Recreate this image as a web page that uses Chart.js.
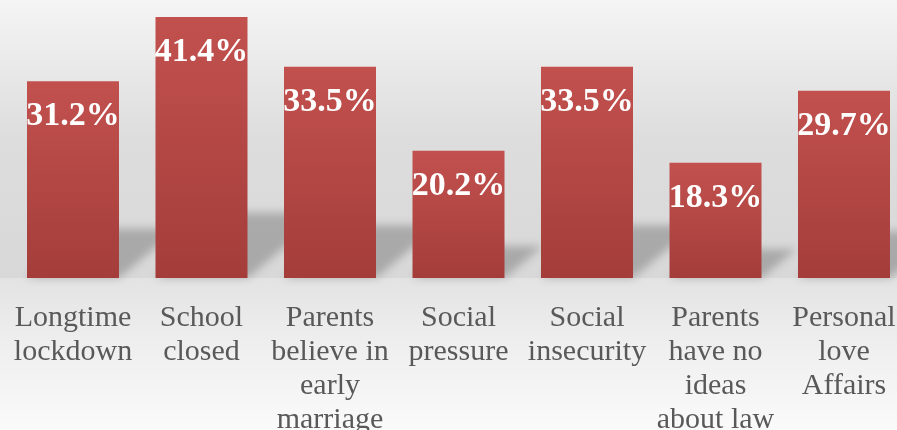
<!DOCTYPE html>
<html>
<head>
<meta charset="utf-8">
<script src="https://cdn.jsdelivr.net/npm/chart.js@4/dist/chart.umd.min.js"></script>
<style>
  html, body { margin: 0; padding: 0; background: #ffffff; }
  #frame { position: fixed; left: 0; top: 0; width: 897px; height: 430px; overflow: hidden; }
  canvas { display: block; }
</style>
</head>
<body>
<div id="frame"><canvas id="c" width="910" height="435"></canvas></div>
<script>
// Reasons reported for early marriage (share of respondents, %)
const categories = [
  ["Longtime", "lockdown"],
  ["School", "closed"],
  ["Parents", "believe in", "early", "marriage"],
  ["Social", "pressure"],
  ["Social", "insecurity"],
  ["Parents", "have no", "ideas", "about law"],
  ["Personal", "love", "Affairs"]
];
const shares = [31.2, 41.4, 33.5, 20.2, 33.5, 18.3, 29.7];
const yMin = 0;
const yMax = 44.1;

const SERIF = '"Liberation Serif", "DejaVu Serif", serif';

// Soft grey backdrop with a lighter floor under the bars
const backdrop = {
  id: 'backdrop',
  beforeDraw(chart) {
    const { ctx, width, height, chartArea } = chart;
    const floor = chartArea.bottom;
    ctx.save();
    const g = ctx.createLinearGradient(0, 0, 0, floor);
    g.addColorStop(0, '#f5f5f5');
    g.addColorStop(0.22, '#eaeaea');
    g.addColorStop(0.5, '#dddddd');
    g.addColorStop(1, '#d8d8d8');
    ctx.fillStyle = g;
    ctx.fillRect(0, 0, width, floor);
    const f = ctx.createLinearGradient(0, floor, 0, height);
    f.addColorStop(0, '#e3e3e3');
    f.addColorStop(0.4, '#eeeeee');
    f.addColorStop(1, '#fbfbfb');
    ctx.fillStyle = f;
    ctx.fillRect(0, floor, width, height - floor);
    ctx.restore();
  }
};

// Perspective shadow cast up and to the right behind each bar
const barShadows = {
  id: 'barShadows',
  beforeDatasetsDraw(chart) {
    const { ctx } = chart;
    const meta = chart.getDatasetMeta(0);
    ctx.save();
    ctx.filter = 'blur(4px)';
    ctx.fillStyle = 'rgba(0,0,0,0.22)';
    meta.data.forEach(bar => {
      const { x, y, base, width } = bar.getProps(['x', 'y', 'base', 'width'], true);
      const left = x - width / 2, right = x + width / 2;
      const sh = (base - y) * 0.25;
      const k = 1.2;
      ctx.beginPath();
      ctx.moveTo(left, base);
      ctx.lineTo(right, base);
      ctx.lineTo(right + k * sh, base - sh);
      ctx.lineTo(left + k * sh, base - sh);
      ctx.closePath();
      ctx.fill();
    });
    ctx.restore();
  }
};

// Percentage printed inside the top of each bar
const valueLabels = {
  id: 'valueLabels',
  afterDatasetsDraw(chart) {
    const { ctx } = chart;
    const meta = chart.getDatasetMeta(0);
    const values = chart.data.datasets[0].data;
    ctx.save();
    ctx.font = 'bold 34px ' + SERIF;
    ctx.fillStyle = '#ffffff';
    ctx.textAlign = 'center';
    ctx.textBaseline = 'alphabetic';
    meta.data.forEach((bar, i) => {
      const { x, y } = bar.getProps(['x', 'y'], true);
      ctx.fillText(values[i].toFixed(1) + '%', x, y + 44);
    });
    ctx.restore();
  }
};

function barFill(context) {
  const chart = context.chart;
  if (!chart.chartArea || context.dataIndex === undefined) return '#b3443f';
  const yScale = chart.scales.y;
  const top = yScale.getPixelForValue(context.raw);
  const base = yScale.getPixelForValue(0);
  if (!isFinite(top) || !isFinite(base) || base - top < 1) return '#b3443f';
  const g = chart.ctx.createLinearGradient(0, top, 0, base);
  g.addColorStop(0, '#c2514e');
  g.addColorStop(1, '#a43d3a');
  return g;
}

new Chart(document.getElementById('c'), {
  type: 'bar',
  data: {
    labels: categories,
    datasets: [{
      data: shares,
      backgroundColor: barFill,
      borderWidth: 0,
      categoryPercentage: 1,
      barPercentage: 0.716
    }]
  },
  options: {
    responsive: false,
    animation: false,
    events: [],
    layout: { padding: { left: 8.75, right: 1.75, top: 0, bottom: 0 } },
    plugins: { legend: { display: false }, tooltip: { enabled: false } },
    scales: {
      y: { display: false, min: yMin, max: yMax },
      x: {
        afterFit(scale) {
          scale.height = 157;
          scale.paddingLeft = 0;
          scale.paddingRight = 0;
        },
        grid: { display: false, drawTicks: false },
        border: { display: false },
        ticks: {
          autoSkip: false,
          maxRotation: 0,
          minRotation: 0,
          padding: 23,
          color: '#595959',
          font: { family: SERIF, size: 30, lineHeight: 1.133 }
        }
      }
    }
  },
  plugins: [backdrop, barShadows, valueLabels]
});
</script>
</body>
</html>
